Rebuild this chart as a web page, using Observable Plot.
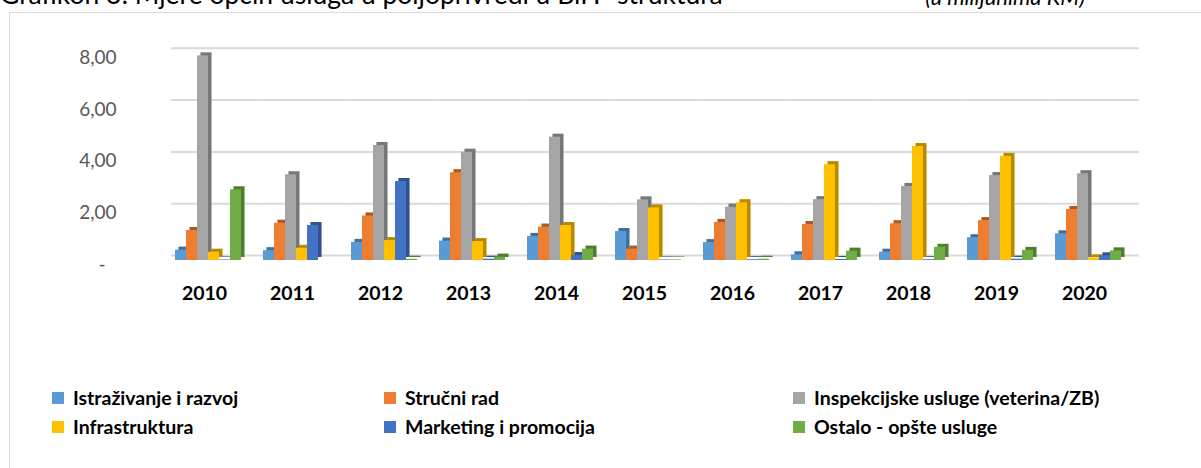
<!DOCTYPE html>
<html><head><meta charset="utf-8">
<script src="https://cdn.jsdelivr.net/npm/d3@7"></script>
<script src="https://cdn.jsdelivr.net/npm/@observablehq/plot@0.6"></script>
<style>
body{margin:0;background:#fff;overflow:hidden}
#wrap{position:relative;width:1201px;height:468px;overflow:hidden;font-family:Lato,sans-serif}
#frame{position:absolute;left:9px;top:12px;width:1300px;height:600px;border-left:1.5px solid #d9d9d9;border-top:1.5px solid #d9d9d9;box-sizing:border-box}
#title{position:absolute;left:0;top:-18.8px;font-size:26.5px;line-height:26.5px;white-space:nowrap;color:#000}
#unit{position:absolute;right:116px;top:-14.5px;font-size:22px;line-height:22px;white-space:nowrap;font-style:italic;color:#000}
#chart{position:absolute;left:0;top:0}
.leg{position:absolute;font-weight:700;font-size:19.5px;line-height:20px;display:flex;align-items:center;white-space:nowrap;color:#000}
.sw{width:12px;height:12px;margin-right:9px;flex:none}
</style>
</head><body>
<div id="wrap">
  <div id="frame"></div>
  <div id="title">Grafikon 3: Mjere općih usluga u poljoprivredi u BiH- struktura</div>
  <div id="unit">(u milijunima KM)</div>
  <div id="chart"></div>
  <div id="legend"></div>
</div>
<script>
const years = ["2010","2011","2012","2013","2014","2015","2016","2017","2018","2019","2020"];
const series = ["Istraživanje i razvoj","Stručni rad","Inspekcijske usluge (veterina/ZB)","Infrastruktura","Marketing i promocija","Ostalo - opšte usluge"];
const istrazivanje = [0.40,0.38,0.70,0.75,0.93,1.12,0.69,0.22,0.32,0.88,1.03];
const strucniRad   = [1.16,1.44,1.72,3.39,1.29,0.44,1.47,1.39,1.42,1.54,1.97];
const inspekcija   = [7.90,3.31,4.44,4.18,4.76,2.34,2.06,2.35,2.86,3.28,3.35];
const infrastruktura=[0.32,0.47,0.77,0.73,1.35,2.03,2.23,3.70,4.40,4.02,0.10];
const marketing    = [0.02,1.35,3.05,0.05,0.19,0.02,0.03,0.04,0.03,0.05,0.18];
const ostalo       = [2.73,0.00,0.05,0.13,0.44,0.02,0.05,0.36,0.51,0.39,0.37];
const yTicks = [0,2,4,6,8];
const colors = ["#5b9bd5","#ed7d31","#a5a5a5","#ffc000","#4472c4","#70ad47"];

const valuesBySeries = [istrazivanje,strucniRad,inspekcija,infrastruktura,marketing,ostalo];
const data = years.flatMap((y,i)=>series.map((s,j)=>({year:y, series:s, value:valuesBySeries[j][i]})));

const fmt = d => d===0 ? "-\u2007" : d.toFixed(2).replace(".",",");

const chart = Plot.plot({
  width:1201, height:320,
  marginLeft:163, marginRight:68, marginTop:50, marginBottom:60,
  style:{fontFamily:"Lato, sans-serif", background:"transparent", overflow:"visible"},
  fx:{domain:years, paddingInner:0.2, paddingOuter:0.1, label:null},
  x:{domain:series, padding:0, axis:null},
  y:{domain:[0,8], range:[260,52.8], axis:null},
  color:{domain:series, range:colors},
  marks:[
    Plot.ruleY(yTicks, {stroke:"#d9d9d9", strokeWidth:2, dx:7, dy:-5, insetLeft:-8.9, insetRight:-8.9}),
    Plot.barY(data, {fx:"year", x:"series", y:"value", fill:"series", dx:3.5, dy:-3}),
    Plot.barY(data, {fx:"year", x:"series", y:"value", fill:"black", fillOpacity:0.28, dx:3.5, dy:-3}),
    Plot.barY(data, {fx:"year", x:"series", y:"value", fill:"series"}),
    Plot.axisY({ticks:yTicks, tickSize:0, tickPadding:57, tickFormat:fmt, fontSize:19, fill:"#595959", dy:4.5, label:null}),
    Plot.axisFx({anchor:"bottom", tickSize:0, tickPadding:26, fontSize:19.5, fontWeight:"bold", fill:"#000", dx:-4, label:null})
  ]
});
document.getElementById("chart").appendChild(chart);

const legPos = [[52,398],[384,398],[793,398],[52,427],[384,427],[793,427]];
const order = [0,1,2,3,4,5];
const leg = document.getElementById("legend");
order.forEach((k,i)=>{
  const d = document.createElement("div");
  d.className="leg";
  d.style.left = legPos[i][0]+"px";
  d.style.top = (legPos[i][1]-10)+"px";
  d.innerHTML = `<span class="sw" style="background:${colors[k]}"></span><span>${series[k]}</span>`;
  leg.appendChild(d);
});
</script>
</body></html>
